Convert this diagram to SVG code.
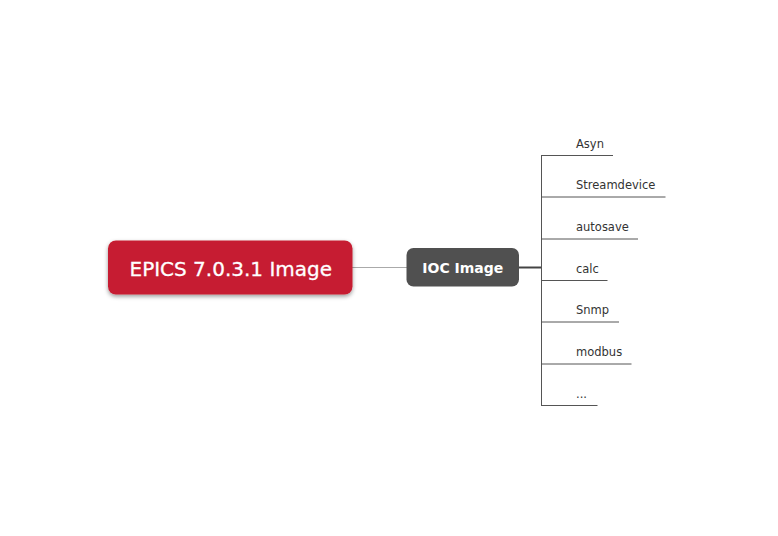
<svg xmlns="http://www.w3.org/2000/svg" width="778" height="536" viewBox="0 0 778 536">
<style>
.leaf{font-family:"DejaVu Sans","Verdana",sans-serif;font-size:11.5px;fill:#333}
.ul{stroke:#555;stroke-width:1;fill:none}
</style>
<defs>
<filter id="sh" x="-10%" y="-20%" width="120%" height="160%">
<feDropShadow dx="0" dy="2" stdDeviation="2" flood-color="#000" flood-opacity="0.4"/>
</filter>
</defs>
<rect width="778" height="536" fill="#fff"/>
<g id="connectors">
<line x1="352" y1="267.5" x2="407" y2="267.5" stroke="#aaa" stroke-width="1"/>
<line x1="519" y1="267.5" x2="541" y2="267.5" stroke="#444" stroke-width="2"/>
<line x1="541.5" y1="155" x2="541.5" y2="405.5" stroke="#555" stroke-width="1"/>
</g>
<g id="root">
<rect x="108" y="240.5" width="244.5" height="54" rx="8" fill="#c61f31" filter="url(#sh)"/>
<text x="230.8" y="275.5" text-anchor="middle" font-family="DejaVu Sans,Verdana,sans-serif" font-size="20" fill="#fff" stroke="#fff" stroke-width="0.3">EPICS 7.0.3.1 Image</text>
</g>
<g id="ioc">
<rect x="406.5" y="248" width="112.5" height="38.5" rx="7" fill="#505050"/>
<text x="462.8" y="273" text-anchor="middle" font-family="DejaVu Sans,Verdana,sans-serif" font-size="14" font-weight="bold" fill="#fff">IOC Image</text>
</g>
<g id="asyn"><line class="ul" x1="541" y1="155.5" x2="613" y2="155.5"/><text class="leaf" x="576" y="147.5">Asyn</text></g>
<g id="streamdevice"><line class="ul" x1="541" y1="197" x2="665.5" y2="197"/><text class="leaf" x="576" y="189">Streamdevice</text></g>
<g id="autosave"><line class="ul" x1="541" y1="239" x2="638" y2="239"/><text class="leaf" x="576" y="231">autosave</text></g>
<g id="calc"><line class="ul" x1="541" y1="280.5" x2="607.5" y2="280.5"/><text class="leaf" x="576" y="272.5">calc</text></g>
<g id="snmp"><line class="ul" x1="541" y1="322" x2="619" y2="322"/><text class="leaf" x="576" y="314">Snmp</text></g>
<g id="modbus"><line class="ul" x1="541" y1="364" x2="631.5" y2="364"/><text class="leaf" x="576" y="356">modbus</text></g>
<g id="more"><line class="ul" x1="541" y1="405.5" x2="597.5" y2="405.5"/><text class="leaf" x="576" y="397.5">...</text></g>
</svg>
